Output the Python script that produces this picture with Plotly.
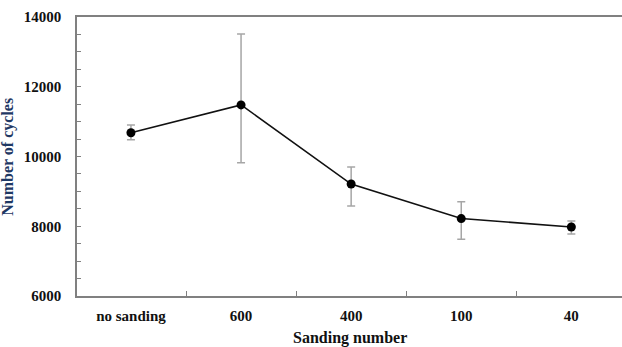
import plotly.graph_objects as go

categories = ["no sanding", "600", "400", "100", "40"]
cycles = [10680, 11480, 9210, 8220, 7980]
err_plus = [220, 2030, 490, 480, 170]
err_minus = [200, 1660, 630, 590, 200]

font_family = "Liberation Serif"

fig = go.Figure()
fig.add_trace(go.Scatter(
    x=categories, y=cycles,
    mode="lines+markers",
    line=dict(color="#111111", width=1.6),
    marker=dict(color="#000000", size=9),
    error_y=dict(type="data", symmetric=False, array=err_plus, arrayminus=err_minus,
                 color="#a6a6a6", thickness=1.5, width=4),
    showlegend=False,
))

fig.update_layout(
    width=622, height=347,
    margin=dict(l=77, r=0, t=17, b=51, autoexpand=False),
    plot_bgcolor="white", paper_bgcolor="white",
    font=dict(family=font_family, color="#111111"),
    xaxis=dict(
        type="category", range=[-0.49, 4.46],
        showline=True, linecolor="#808080", linewidth=1.5, mirror=True,
        ticks="inside", ticklen=5, tickcolor="#808080", tickwidth=1.2,
        tickson="boundaries", showgrid=False, automargin=False,
        tickfont=dict(family=font_family, size=15, color="#111111", weight="bold"),
        ticklabelstandoff=5,
    ),
    yaxis=dict(
        range=[6000, 14000], dtick=2000, tick0=6000, tickformat="d",
        showline=True, linecolor="#808080", linewidth=1.5,
        ticks="inside", ticklen=4, tickcolor="#808080", tickwidth=1.2,
        showgrid=False, zeroline=False, automargin=False,
        minor=dict(dtick=500, ticks="inside", ticklen=4, tickcolor="#808080", tickwidth=1.2, showgrid=False),
        tickfont=dict(family=font_family, size=15, color="#111111", weight="bold"),
        ticklabelstandoff=11,
    ),
)

fig.add_annotation(
    text="<b>Sanding number</b>",
    xref="paper", yref="paper", x=0.5, y=-0.152,
    xanchor="center", yanchor="middle", showarrow=False,
    font=dict(family=font_family, size=16, color="#111111"),
)

fig.add_annotation(
    text="<b>Number of cycles</b>", textangle=-90,
    xref="paper", yref="paper", x=-0.128, y=0.5,
    xanchor="center", yanchor="middle", showarrow=False,
    font=dict(family=font_family, size=16, color="#1f3864"),
)

fig.write_html("out.html", config={"displayModeBar": False},
               post_script="document.body.style.margin='0';document.body.style.overflow='hidden';")
